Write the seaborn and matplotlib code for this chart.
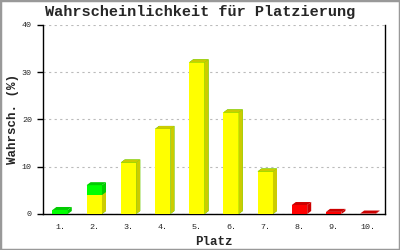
import matplotlib
matplotlib.use("Agg")
import matplotlib.pyplot as plt
import matplotlib.transforms as mtrans
from matplotlib.patches import Polygon
import seaborn as sns
import pandas as pd

categories = ["1.", "2.", "3.", "4.", "5.", "6.", "7.", "8.", "9.", "10."]
yellow_vals = [0.0, 4.0, 10.9, 18.0, 32.1, 21.5, 9.0, 0.0, 0.0, 0.0]
green_vals = [0.85, 2.1, 0.0, 0.0, 0.0, 0.0, 0.0, 0.0, 0.0, 0.0]
red_vals = [0.0, 0.0, 0.0, 0.0, 0.0, 0.0, 0.0, 1.9, 0.45, 0.1]
yticks = [0, 10, 20, 30, 40]

sns.set_style("white")
plt.rcParams['font.family'] = ['Liberation Mono', 'DejaVu Sans Mono']

fig = plt.figure(figsize=(4, 2.5), dpi=100)
ax = fig.add_axes([0.1075, 0.144, 0.855, 0.756])

df = pd.DataFrame({"Platz": categories, "yellow": yellow_vals,
                   "green": green_vals, "red": red_vals})
df["ystack"] = df["yellow"]
df["gstack"] = df["yellow"] + df["green"]
totals = (df["yellow"] + df["green"] + df["red"]).tolist()

layers = [
    ("gstack", "#00ff00", "#00cc00"),
    ("ystack", "#ffff00", "#cccc00"),
    ("red", "#ff0000", "#cc0000"),
]

face_info = []
for col, front, dark in layers:
    n_before = len(ax.patches)
    sns.barplot(data=df, x="Platz", y=col, color=front, width=0.45,
                saturation=1, ax=ax, zorder=3, linewidth=0)
    for i, p in enumerate(ax.patches[n_before:]):
        face_info.append((i, p, dark))

ax.set_ylim(0, 40)
ax.set_xlim(-0.5, len(categories) - 0.5)
ax.set_yticks(yticks)
ax.yaxis.grid(True, color="#bbbbbb", linestyle=(0, (2, 3)), linewidth=0.8)
ax.set_axisbelow(True)

# 3D top and side faces, offset in display pixels
dx, dy = 4, 3
for i, p, dark in face_info:
    h = p.get_height()
    if h <= 0:
        continue
    x0 = p.get_x(); w = p.get_width(); y0 = p.get_y()

    def pt(x, y, ox=0, oy=0):
        px, py = ax.transData.transform((x, y))
        return (px + ox, py + oy)

    polys = [[pt(x0 + w, y0), pt(x0 + w, y0 + h),
              pt(x0 + w, y0 + h, dx, dy), pt(x0 + w, y0, dx, dy)]]
    if abs((y0 + h) - totals[i]) < 1e-9:
        polys.append([pt(x0, y0 + h), pt(x0 + w, y0 + h),
                      pt(x0 + w, y0 + h, dx, dy), pt(x0, y0 + h, dx, dy)])
    for poly in polys:
        patch = Polygon(poly, closed=True, facecolor=dark,
                        edgecolor="none", zorder=2.9)
        patch.set_transform(mtrans.IdentityTransform())
        patch.set_clip_on(False)
        patch.set_figure(fig)
        fig.artists.append(patch)

for s in ["left", "right", "bottom"]:
    ax.spines[s].set_visible(True)
    ax.spines[s].set_color("black")
    ax.spines[s].set_linewidth(1)
ax.spines["top"].set_visible(False)

ax.tick_params(axis="y", left=True, length=4, width=1, color="black",
               labelsize=6, pad=4)
ax.tick_params(axis="x", bottom=False, labelsize=6, pad=4)

ax.set_xlabel("Platz", fontsize=9, fontweight="bold", labelpad=3)
ax.set_ylabel("Wahrsch. (%)", fontsize=9, fontweight="bold", labelpad=2)
fig.text(0.5, 0.952, "Wahrscheinlichkeit für Platzierung", ha="center",
         va="center", fontsize=11, fontweight="bold")

border = plt.Rectangle((0, 0), 1, 1, transform=fig.transFigure, fill=False,
                       edgecolor="#999999", linewidth=2.5)
fig.patches.append(border)

fig.savefig("out.png", dpi=100)
